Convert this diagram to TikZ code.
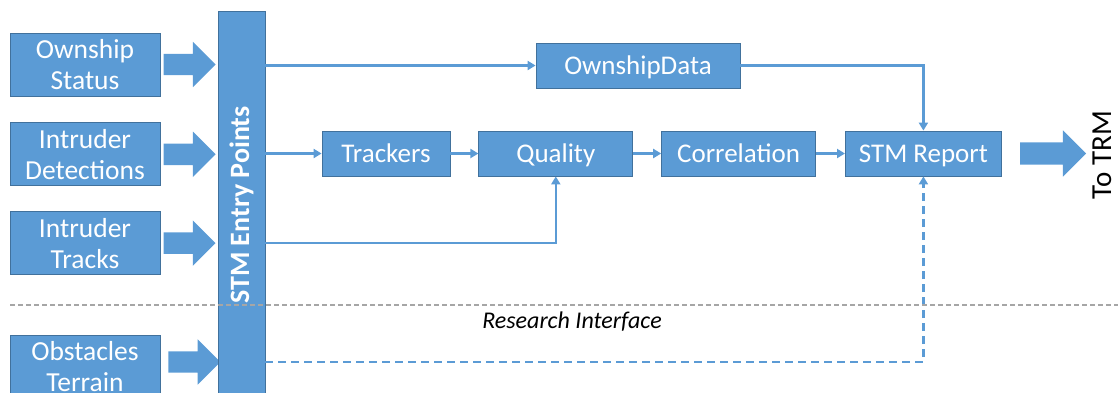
\documentclass[tikz,border=0pt]{standalone}
\usepackage{fontspec}
\setmainfont{Carlito}
\usepackage{xcolor}
\usepackage{tikz}
\usetikzlibrary{arrows.meta,positioning,shapes.arrows}
\definecolor{stmblue}{HTML}{5B9BD5}
\definecolor{stmedge}{HTML}{41719C}
\definecolor{ifgray}{HTML}{A6A6A6}

\begin{document}
\begin{tikzpicture}[
  x=1pt, y=-1pt,
  node distance=25pt and 28pt,
  src/.style={draw=stmedge,fill=stmblue,text=white,align=center,line width=0.8pt,
              minimum width=150pt,minimum height=63pt,inner sep=0pt,
              font=\fontsize{27.5}{31}\selectfont},
  box/.style={draw=stmedge,fill=stmblue,text=white,align=center,line width=0.8pt,
              minimum height=45pt,inner sep=0pt,text height=17.4pt,text depth=0pt,
              font=\fontsize{27}{30}\selectfont},
  fat/.style={single arrow,fill=stmblue,draw=none,inner xsep=0pt,inner ysep=10.5pt,
              single arrow head extend=12pt,minimum height=52pt},
  flow/.style={-{Triangle[length=8pt,width=9pt]},draw=stmblue,line width=2.2pt},
  resflow/.style={flow,dash pattern=on 8pt off 5pt}
]
\useasboundingbox (0,0) rectangle (1118,392);

% inputs
\node[src] (ownship) at (85,64.5) {Ownship\\Status};
\node[src,below=26pt of ownship] (detect) {Intruder\\Detections};
\node[src,below=25pt of detect] (tracks) {Intruder\\Tracks};
\node[src,below=60pt of tracks] (obst) {Obstacles\\Terrain};

\node[fat,right=3pt of ownship] (inown) {};
\node[fat,right=3pt of detect] (indet) {};
\node[fat,right=3pt of tracks] (intrk) {};
\node[fat] (inobs) at (189,362) {};

% entry bar
\node[draw=stmedge,fill=stmblue,line width=0.8pt,minimum width=47pt,minimum height=388pt,
      inner sep=0pt] (entry) at (241.5,205) {};
\node[text=white,rotate=90,font=\fontsize{28}{30}\selectfont\bfseries] (entrytxt)
  at (entry.center) {STM Entry Points};

% processing chain
\node[box,minimum width=204pt] (owndata) at (638,65.5) {OwnshipData};
\node[box,minimum width=128pt] (trackers) at (386,153.5) {Trackers};
\node[box,minimum width=154pt,right=of trackers] (quality) {Quality};
\node[box,minimum width=154pt,right=of quality] (corr) {Correlation};
\node[box,minimum width=156pt,right=29pt of corr] (report) {STM Report};

\node[fat,inner ysep=11pt,minimum height=66pt,right=18pt of report] (out) {};
\node[rotate=90,inner sep=0pt,font=\fontsize{29}{30}\selectfont] (trm) at (1102,155) {To TRM};

\node[font=\fontsize{24}{28}\selectfont\itshape] (resif) at (572,322) {Research Interface};
\coordinate (sepL) at (10,305);
\coordinate (sepR) at (1118,305);

\draw[flow] (entry.east|-owndata) -- (owndata);
\draw[flow] (entry.east|-trackers) -- (trackers);
\draw[flow] (trackers) -- (quality);
\draw[flow] (quality) -- (corr);
\draw[flow] (corr) -- (report);
\draw[flow] (owndata) -| (report);
\draw[flow] (entry.east|-intrk) -| (quality);
\draw[resflow] (entry.east|-inobs) -| (report);

\draw[ifgray,line width=1.3pt,dash pattern=on 5pt off 3pt] (sepL) -- (sepR);
\end{tikzpicture}
\end{document}
